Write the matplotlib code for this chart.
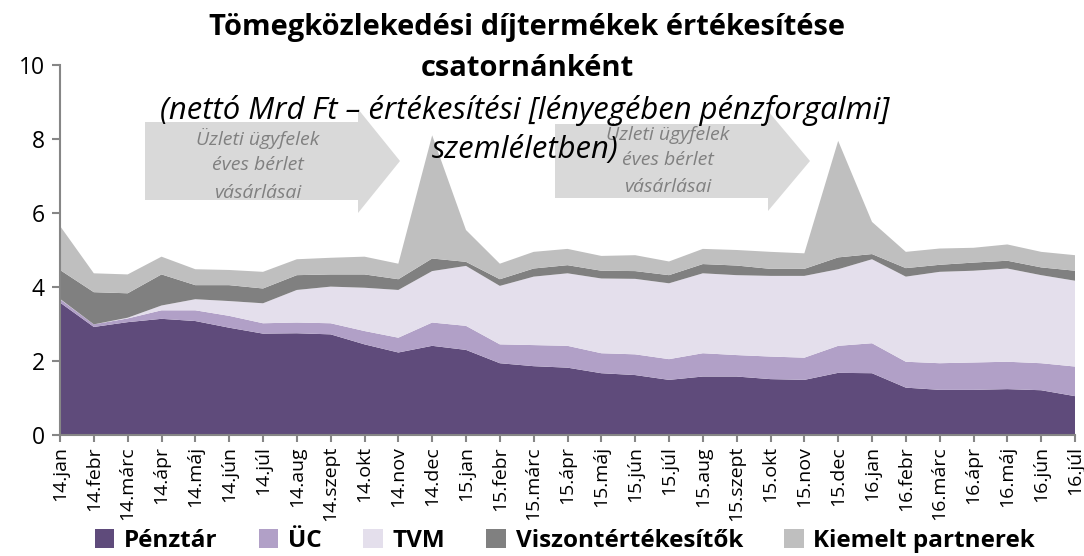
import matplotlib
matplotlib.use("Agg")
import matplotlib.pyplot as plt
from matplotlib.patches import Patch, Polygon
import numpy as np

plt.rcParams['font.family'] = ['Open Sans', 'DejaVu Sans']

months = ["14.jan", "14.febr", "14.márc", "14.ápr", "14.máj", "14.jún", "14.júl",
          "14.aug", "14.szept", "14.okt", "14.nov", "14.dec", "15.jan", "15.febr",
          "15.márc", "15.ápr", "15.máj", "15.jún", "15.júl", "15.aug", "15.szept",
          "15.okt", "15.nov", "15.dec", "16.jan", "16.febr", "16.márc", "16.ápr",
          "16.máj", "16.jún", "16.júl"]

# net billion HUF per channel
penztar = [3.58, 2.92, 3.05, 3.14, 3.08, 2.90, 2.74, 2.75, 2.72, 2.45, 2.23, 2.41,
           2.30, 1.94, 1.86, 1.82, 1.67, 1.62, 1.49, 1.58, 1.58, 1.51, 1.49, 1.68,
           1.67, 1.28, 1.22, 1.22, 1.24, 1.21, 1.05]
uc = [0.09, 0.07, 0.10, 0.23, 0.29, 0.32, 0.28, 0.29, 0.30, 0.36, 0.40, 0.63,
      0.65, 0.51, 0.57, 0.59, 0.54, 0.56, 0.56, 0.63, 0.58, 0.61, 0.60, 0.73,
      0.81, 0.70, 0.72, 0.74, 0.74, 0.73, 0.80]
tvm = [0.01, 0.00, 0.02, 0.13, 0.30, 0.40, 0.54, 0.88, 0.99, 1.17, 1.29, 1.39,
       1.62, 1.58, 1.85, 1.96, 2.02, 2.04, 2.05, 2.16, 2.16, 2.18, 2.21, 2.07,
       2.27, 2.30, 2.47, 2.48, 2.52, 2.38, 2.32]
viszont = [0.78, 0.87, 0.66, 0.84, 0.38, 0.43, 0.40, 0.40, 0.33, 0.36, 0.29, 0.34,
           0.11, 0.18, 0.22, 0.22, 0.21, 0.21, 0.22, 0.25, 0.26, 0.19, 0.19, 0.32,
           0.14, 0.23, 0.19, 0.22, 0.21, 0.21, 0.27]
kiemelt = [1.19, 0.51, 0.51, 0.48, 0.43, 0.41, 0.45, 0.43, 0.45, 0.48, 0.42, 3.33,
           0.86, 0.42, 0.45, 0.44, 0.40, 0.43, 0.37, 0.41, 0.42, 0.46, 0.42, 3.15,
           0.87, 0.44, 0.44, 0.40, 0.44, 0.42, 0.42]

series_names = ["Pénztár", "ÜC", "TVM", "Viszontértékesítők", "Kiemelt partnerek"]
colors = ["#5F4B7B", "#B1A0C7", "#E4DFEC", "#808080", "#BFBFBF"]

W, H = 1084, 556
fig = plt.figure(figsize=(W / 100, H / 100), dpi=100)
ax = fig.add_axes([60 / W, 1 - 435 / H, (1075 - 60) / W, (435 - 65) / H])


def block_arrow(x0, x1, xtip, yc, body_h, head_h):
    # pixel coords (y from top) -> figure fraction
    pts = [(x0, yc - body_h), (x1, yc - body_h), (x1, yc - head_h), (xtip, yc),
           (x1, yc + head_h), (x1, yc + body_h), (x0, yc + body_h)]
    pts = [(px / W, 1 - py / H) for px, py in pts]
    fig.patches.append(Polygon(pts, closed=True, transform=fig.transFigure,
                               facecolor="#D9D9D9", edgecolor="none", zorder=0))


block_arrow(145, 358, 400, 161, 39, 52)
block_arrow(555, 768, 810, 161, 37, 50)

x = np.arange(len(months))
ax.stackplot(x, penztar, uc, tvm, viszont, kiemelt, colors=colors,
             labels=series_names, linewidth=0)
ax.set_facecolor("none")

ax.set_xlim(0, len(months) - 1)
ax.set_ylim(0, 10)
ax.set_yticks([0, 2, 4, 6, 8, 10])
ax.set_xticks(x)
ax.set_xticklabels(months, rotation=90, fontsize=14)
ax.tick_params(axis="y", labelsize=16.5, length=6, width=1.5, color="#868686", pad=5)
ax.tick_params(axis="x", length=5, width=1.5, color="#868686", pad=3)
for s in ["top", "right"]:
    ax.spines[s].set_visible(False)
for s in ["left", "bottom"]:
    ax.spines[s].set_color("#868686")
    ax.spines[s].set_linewidth(1.5)

for cx, ys in [(258, (138, 165, 193)), (668, (133, 160, 187))]:
    for txt, py in zip(["Üzleti ügyfelek", "éves bérlet", "vásárlásai"], ys):
        fig.text(cx / W, 1 - py / H, txt, ha="center", va="center",
                 fontsize=14, style="italic", color="#808080")

fig.text(527 / W, 1 - 28 / H, "Tömegközlekedési díjtermékek értékesítése",
         ha="center", va="center", fontsize=21, fontweight="bold")
fig.text(527 / W, 1 - 68 / H, "csatornánként",
         ha="center", va="center", fontsize=21, fontweight="bold")
fig.text(525 / W, 1 - 110 / H, "(nettó Mrd Ft – értékesítési [lényegében pénzforgalmi]",
         ha="center", va="center", fontsize=22.3, style="italic")
fig.text(525 / W, 1 - 150 / H, "szemléletben)",
         ha="center", va="center", fontsize=22.3, style="italic")

handles = [Patch(facecolor=c, edgecolor="none") for c in colors]
fig.legend(handles, series_names, loc="center", ncol=5, frameon=False,
           bbox_to_anchor=(565 / W, 1 - 541 / H), prop={"size": 17.5, "weight": "bold"},
           handlelength=0.8, handleheight=0.8, handletextpad=0.4, columnspacing=1.7)

fig.savefig("out.png", dpi=100)
